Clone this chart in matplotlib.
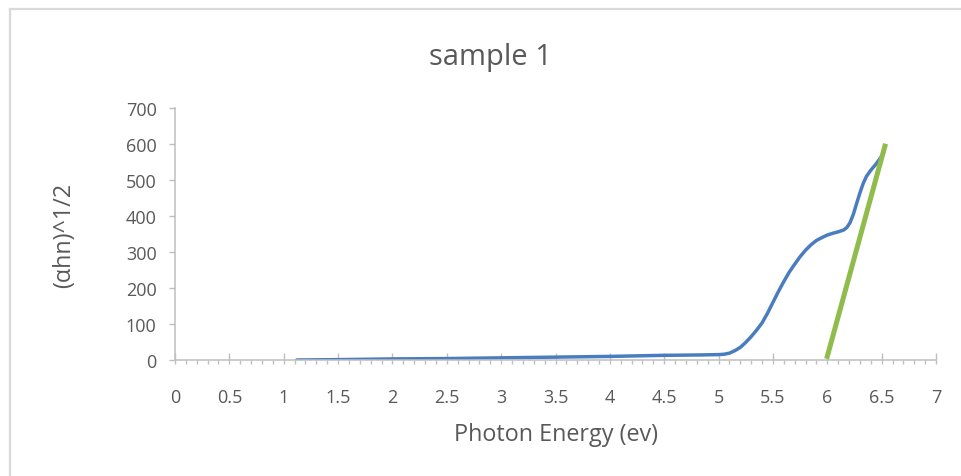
import numpy as np
import matplotlib.pyplot as plt
from matplotlib.lines import Line2D
from matplotlib.ticker import MultipleLocator

# values
photon_energy = [1.12, 1.5, 2.0, 2.5, 3.0, 3.5, 4.0, 4.5, 4.83, 5.0,
                 5.05, 5.10, 5.15, 5.20, 5.25, 5.30, 5.35, 5.40, 5.45, 5.50,
                 5.55, 5.60, 5.65, 5.70, 5.75, 5.80, 5.85, 5.90, 5.95, 6.00,
                 6.05, 6.10, 6.15, 6.18, 6.21, 6.24, 6.27, 6.30, 6.33, 6.36,
                 6.40, 6.45, 6.50, 6.52]
alpha_hn = [0, 1, 3, 4, 6, 8, 10, 13, 14, 15,
            16, 19, 26, 35, 49, 65, 83, 103, 130, 160,
            190, 218, 244, 266, 287, 305, 320, 332, 340, 347,
            352, 356, 361, 368, 382, 405, 435, 464, 490, 510,
            527, 545, 566, 578]

# tangent (Tauc) line
fit_x = [6.00, 6.53]
fit_y = [10, 594]

x_ticks = [0, 0.5, 1, 1.5, 2, 2.5, 3, 3.5, 4, 4.5, 5, 5.5, 6, 6.5, 7]
y_ticks = [0, 100, 200, 300, 400, 500, 600, 700]

plt.rcParams['font.family'] = ['Open Sans', 'DejaVu Sans']
text_color = "#595959"
axis_color = "#bfbfbf"

fig = plt.figure(figsize=(9.61, 4.77), dpi=100)
ax = fig.add_axes([175 / 961, 1 - 361 / 477, (936 - 175) / 961, (361 - 109) / 477])

ax.plot(photon_energy, alpha_hn, color="#4a7dc0", linewidth=2.5,
        solid_capstyle="round", solid_joinstyle="round", zorder=2)
ax.plot(fit_x, fit_y, color="#8fbc4a", linewidth=3.6, zorder=3)

ax.set_xlim(0, 7)
ax.set_ylim(0, 700)
ax.set_xticks(x_ticks)
ax.set_xticklabels([f"{v:g}" for v in x_ticks])
ax.set_yticks(y_ticks)
ax.xaxis.set_minor_locator(MultipleLocator(0.1))
ax.xaxis.remove_overlapping_locs = False

for side in ["top", "right"]:
    ax.spines[side].set_visible(False)
for side in ["left", "bottom"]:
    ax.spines[side].set_color(axis_color)
    ax.spines[side].set_linewidth(1.1)

ax.tick_params(axis="x", which="major", direction="in", length=5.4, width=1.0,
               color=axis_color, labelcolor=text_color, labelsize=13, pad=20)
ax.tick_params(axis="x", which="minor", direction="out", length=2.9, width=1.0,
               color=axis_color)
ax.tick_params(axis="y", which="major", direction="out", length=4.3, width=1.0,
               color=axis_color, labelcolor=text_color, labelsize=13, pad=9)

ax.set_xlabel("Photon Energy (ev)", fontsize=16.8, color=text_color, labelpad=12)
ax.set_ylabel("(αhn)^1/2", fontsize=16.8, color=text_color, labelpad=36)
fig.text(490 / 961, 1 - 57 / 477, "sample 1", fontsize=21, color=text_color,
         ha="center", va="center")

# chart-area border (top and left edges visible in the screenshot)
fig.add_artist(Line2D([9.5 / 961, 9.5 / 961], [0, 1 - 9.5 / 477],
                      transform=fig.transFigure, color="#d9d9d9", linewidth=1.6))
fig.add_artist(Line2D([9.5 / 961, 1], [1 - 9.5 / 477, 1 - 9.5 / 477],
                      transform=fig.transFigure, color="#d9d9d9", linewidth=1.6))

fig.savefig("out.png", dpi=100)
